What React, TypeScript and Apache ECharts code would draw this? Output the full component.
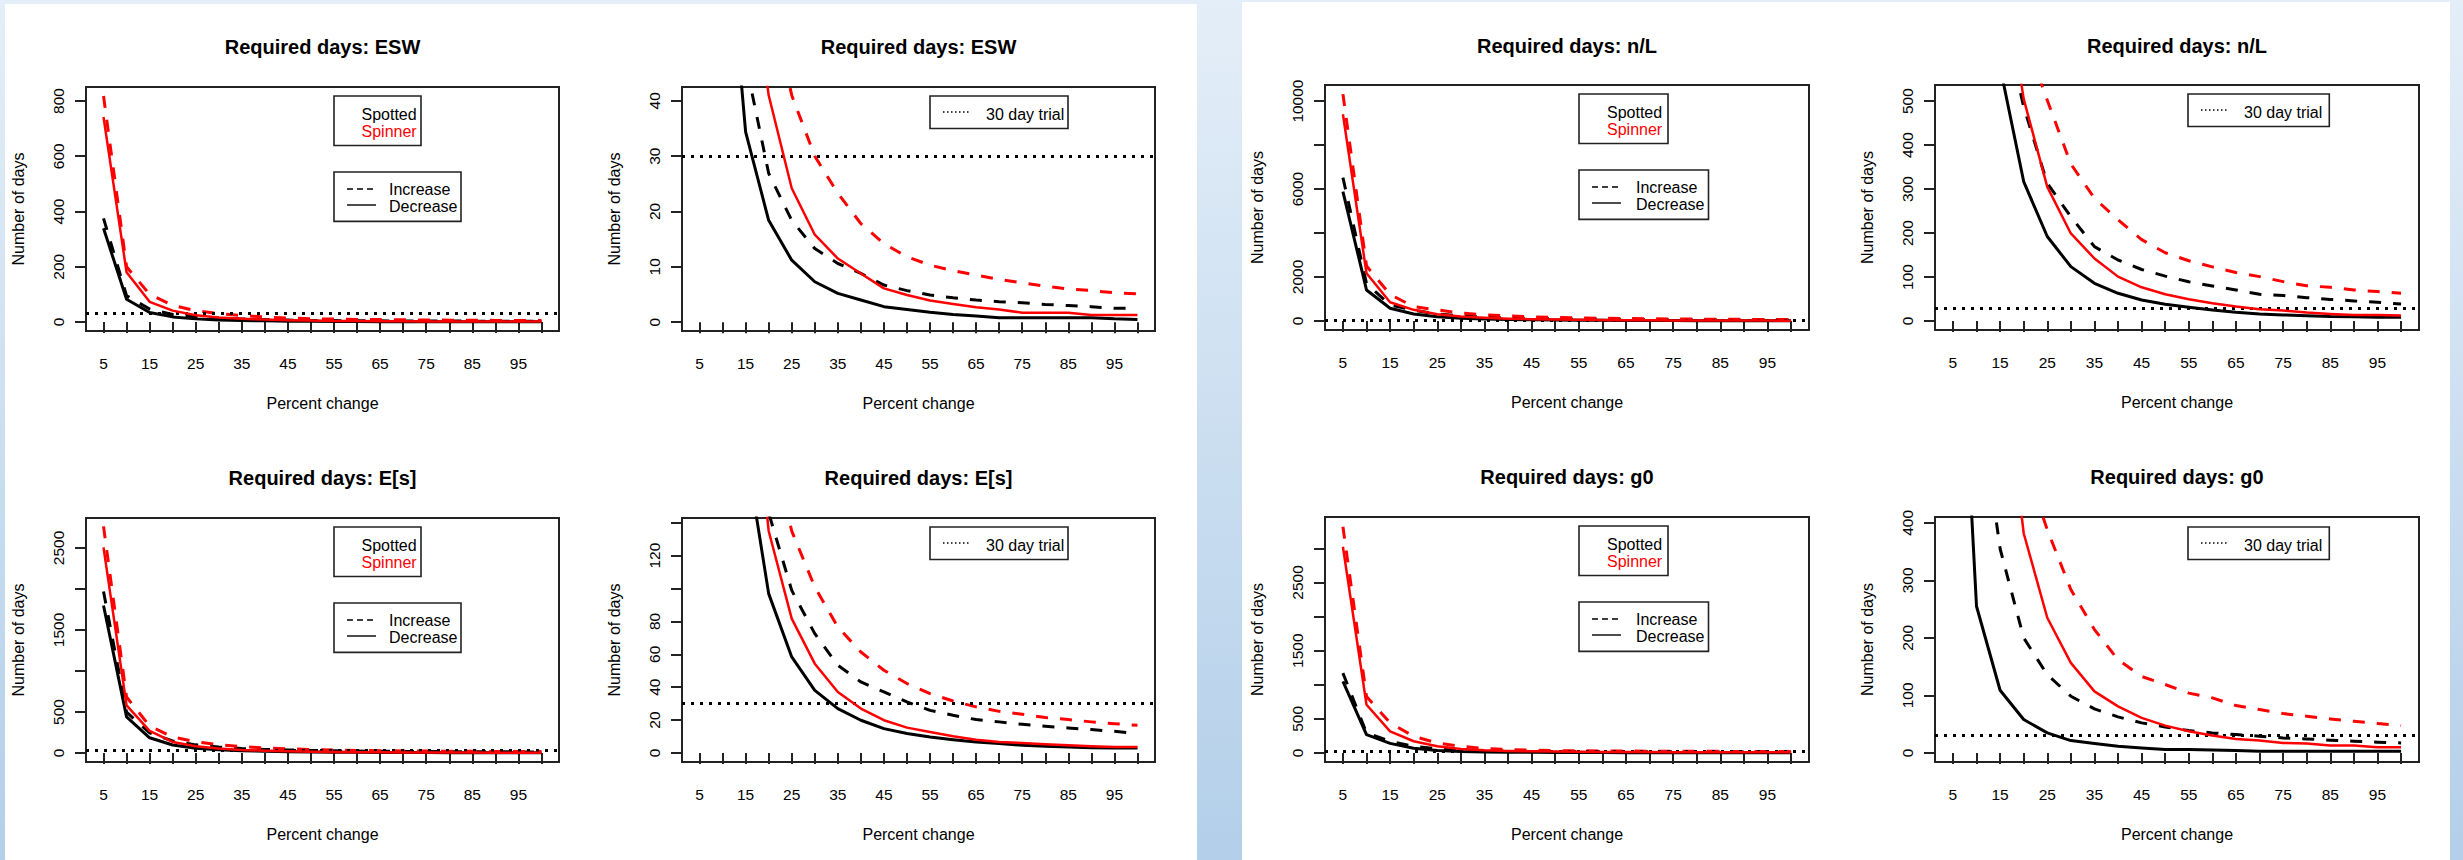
import React, { useEffect, useRef } from 'react';
import * as echarts from 'echarts';

// ---------- data ----------
const percentChange = [5, 10, 15, 20, 25, 30, 35, 40, 45, 50, 55, 60, 65, 70, 75, 80, 85, 90, 95, 100];
const xTickValues = [5, 10, 15, 20, 25, 30, 35, 40, 45, 50, 55, 60, 65, 70, 75, 80, 85, 90, 95, 100];
const xLabelValues = [5, 15, 25, 35, 45, 55, 65, 75, 85, 95];

// ESW
const eswSpottedIncrease = [375, 95, 47, 26.9, 18.4, 13.3, 10.6, 8.8, 6.7, 5.7, 4.9, 4.4, 4.0, 3.7, 3.5, 3.2, 3.0, 2.8, 2.5, 2.5];
const eswSpottedDecrease = [339, 82, 34.4, 18.4, 11.2, 7.3, 5.2, 4.0, 2.8, 2.3, 1.8, 1.4, 1.1, 0.8, 0.8, 0.8, 0.8, 0.8, 0.6, 0.5];
const eswSpinnerIncrease = [818, 200, 100, 60, 41, 30, 23.3, 17.8, 14.2, 11.8, 10.3, 9.3, 8.5, 7.7, 7.1, 6.5, 6.0, 5.7, 5.3, 5.1];
const eswSpinnerDecrease = [742, 180, 73, 41, 24.2, 15.8, 11.5, 8.8, 6.1, 4.9, 3.9, 3.3, 2.7, 2.3, 1.7, 1.7, 1.7, 1.3, 1.3, 1.3];

// n/L
const nlSpottedIncrease = [6515, 1700, 720, 487, 313, 237, 169, 138.6, 117, 102, 89, 79.5, 70.5, 60.6, 57.6, 53, 49, 45.5, 42.4, 38.6];
const nlSpottedDecrease = [5879, 1409, 578, 317, 192, 123.5, 85.6, 62.9, 47.7, 37.9, 31, 25, 19.7, 15.9, 13.6, 12, 10, 9.8, 8.5, 8.3];
const nlSpinnerIncrease = [10318, 2500, 1200, 652, 502, 357, 279, 230, 185, 155, 137, 123, 110, 100.8, 89.4, 80, 76.5, 70.5, 66.7, 63];
const nlSpinnerDecrease = [9400, 2167, 850, 505, 305, 199, 142, 100.8, 76.5, 60.6, 49.2, 40.2, 32.6, 26.5, 23.5, 19, 15.9, 13.6, 13.6, 12.1];

// E[s]
const esSpottedIncrease = [1968, 499, 245, 146, 98.9, 72.6, 53.3, 43.2, 37.1, 31, 25.9, 22.9, 20.3, 18.9, 17.4, 16.2, 15.2, 14.2, 13.2, 11.8];
const esSpottedDecrease = [1798, 440, 185, 96.9, 58.4, 38.1, 27, 19.9, 14.8, 11.8, 9.7, 8.1, 6.7, 5.7, 4.7, 4.1, 3.6, 3.2, 3.0, 3.0];
const esSpinnerIncrease = [2763, 682, 329, 195, 135, 101, 76.6, 61.4, 50.3, 42.2, 36.1, 31.6, 28, 25.3, 23.5, 21.5, 20.3, 18.9, 17.8, 16.8];
const esSpinnerDecrease = [2507, 581, 270, 135, 81.7, 54.3, 37.1, 27, 19.9, 15.4, 12.8, 10.1, 8.1, 6.7, 6.1, 5.3, 4.7, 4.1, 3.6, 3.6];

// g0 (full-range panel)
const g0FullSpottedIncrease = [1171, 293, 171, 98, 59, 39, 30, 25, 22, 20, 19, 18, 17, 16, 16, 15, 15, 15, 14, 14];
const g0FullSpottedDecrease = [1049, 268, 140, 70, 34, 20, 15, 11, 8.5, 6, 5.5, 5, 4, 3, 3, 3, 3, 3, 3, 3];
const g0FullSpinnerIncrease = [3317, 829, 440, 244, 146, 98, 65, 49, 40, 35, 31, 29, 27, 26, 25, 24, 23, 22, 22, 21];
const g0FullSpinnerDecrease = [3024, 707, 317, 171, 98, 59, 39, 30, 24, 20, 17, 15, 13, 12, 11, 10, 10, 9, 9, 9];

// g0 (zoomed panel)
const g0ZoomSpottedIncrease = [1900, 650, 355, 200, 136, 98.6, 76.5, 62.6, 52.2, 45.2, 38.8, 34.8, 31.9, 29, 26, 24.3, 22, 20.3, 18.6, 17.4];
const g0ZoomSpottedDecrease = [1030, 255, 109, 58, 34.8, 21.4, 16.2, 11.6, 8.7, 5.8, 5.8, 5, 4, 2.9, 2.9, 2.9, 2.9, 2.9, 2.9, 2.9];
const g0ZoomSpinnerIncrease = [5200, 1800, 900, 511, 388, 284, 214.5, 162, 133, 119, 104, 95.7, 82.3, 75.4, 68.4, 63.8, 59, 55, 51, 47.5];
const g0ZoomSpinnerDecrease = [4300, 1450, 730, 382, 235, 156.5, 107, 81, 61, 47.5, 37.7, 30.1, 24.3, 21.4, 17.4, 16.2, 12.8, 12.8, 9.9, 9.9];

const trialDays = 30;

// ---------- layout / style ----------
const FONT = "'Liberation Sans', Arial, sans-serif";

type Panel = {
  title: string;
  left: number; top: number; width: number; height: number;
  titleY: number;
  yMin: number; yMax: number;
  yTicks: number[]; yLabels: number[];
  series: number[][];
  legend: 'species' | 'trial';
  lx: number; ly: number; // legend anchor
};

const panels: Panel[] = [
  { title: 'Required days: ESW', left: 86, top: 87, width: 473, height: 244, titleY: 47, yMin: -32.7, yMax: 850.7,
    yTicks: [0, 200, 400, 600, 800], yLabels: [0, 200, 400, 600, 800],
    series: [eswSpottedIncrease, eswSpottedDecrease, eswSpinnerIncrease, eswSpinnerDecrease], legend: 'species', lx: 334, ly: 96 },
  { title: 'Required days: ESW', left: 682, top: 87, width: 473, height: 244, titleY: 47, yMin: -1.6, yMax: 42.5,
    yTicks: [0, 10, 20, 30, 40], yLabels: [0, 10, 20, 30, 40],
    series: [eswSpottedIncrease, eswSpottedDecrease, eswSpinnerIncrease, eswSpinnerDecrease], legend: 'trial', lx: 930, ly: 96 },
  { title: 'Required days: n/L', left: 1325, top: 85, width: 484, height: 245, titleY: 46, yMin: -413, yMax: 10731,
    yTicks: [0, 2000, 4000, 6000, 8000, 10000], yLabels: [0, 2000, 6000, 10000],
    series: [nlSpottedIncrease, nlSpottedDecrease, nlSpinnerIncrease, nlSpinnerDecrease], legend: 'species', lx: 1579, ly: 94 },
  { title: 'Required days: n/L', left: 1935, top: 85, width: 484, height: 245, titleY: 46, yMin: -20.6, yMax: 536.6,
    yTicks: [0, 100, 200, 300, 400, 500], yLabels: [0, 100, 200, 300, 400, 500],
    series: [nlSpottedIncrease, nlSpottedDecrease, nlSpinnerIncrease, nlSpinnerDecrease], legend: 'trial', lx: 2188, ly: 94 },
  { title: 'Required days: E[s]', left: 86, top: 518, width: 473, height: 244, titleY: 478, yMin: -110, yMax: 2865,
    yTicks: [0, 500, 1000, 1500, 2000, 2500], yLabels: [0, 500, 1500, 2500],
    series: [esSpottedIncrease, esSpottedDecrease, esSpinnerIncrease, esSpinnerDecrease], legend: 'species', lx: 334, ly: 527 },
  { title: 'Required days: E[s]', left: 682, top: 518, width: 473, height: 244, titleY: 478, yMin: -5.5, yMax: 142.9,
    yTicks: [0, 20, 40, 60, 80, 100, 120, 140], yLabels: [0, 20, 40, 60, 80, 120],
    series: [esSpottedIncrease, esSpottedDecrease, esSpinnerIncrease, esSpinnerDecrease], legend: 'trial', lx: 930, ly: 527 },
  { title: 'Required days: g0', left: 1325, top: 517, width: 484, height: 245, titleY: 477, yMin: -133, yMax: 3460,
    yTicks: [0, 500, 1000, 1500, 2000, 2500, 3000], yLabels: [0, 500, 1500, 2500],
    series: [g0FullSpottedIncrease, g0FullSpottedDecrease, g0FullSpinnerIncrease, g0FullSpinnerDecrease], legend: 'species', lx: 1579, ly: 526 },
  { title: 'Required days: g0', left: 1935, top: 517, width: 484, height: 245, titleY: 477, yMin: -15.8, yMax: 410.2,
    yTicks: [0, 100, 200, 300, 400], yLabels: [0, 100, 200, 300, 400],
    series: [g0ZoomSpottedIncrease, g0ZoomSpottedDecrease, g0ZoomSpinnerIncrease, g0ZoomSpinnerDecrease], legend: 'trial', lx: 2188, ly: 527 },
];

const lineStyles = [
  { name: 'Spotted increase', color: '#000000', type: [12, 12] as any, width: 3 },
  { name: 'Spotted decrease', color: '#000000', type: 'solid' as any, width: 3 },
  { name: 'Spinner increase', color: '#ff0000', type: [12, 12] as any, width: 3 },
  { name: 'Spinner decrease', color: '#ff0000', type: 'solid' as any, width: 2.5 },
];

function legendGraphics(p: Panel): any[] {
  const out: any[] = [];
  const txt = (text: string, x: number, y: number, fill: string) => ({
    type: 'text', x, y, z: 101,
    style: { text, fill, font: `16px ${FONT}`, textAlign: 'left', textVerticalAlign: 'middle' },
  });
  if (p.legend === 'species') {
    const wide = p.width > 480;
    const w1 = wide ? 89 : 87;
    const w2 = wide ? 129.5 : 127;
    const tx = p.lx + (wide ? 28 : 27.5);
    out.push({ type: 'rect', z: 100, shape: { x: p.lx, y: p.ly, width: w1, height: 49.5 }, style: { fill: '#fff', stroke: '#222', lineWidth: 1.6 } });
    out.push(txt('Spotted', tx, p.ly + 18.5, '#000'));
    out.push(txt('Spinner', tx, p.ly + 35.2, '#ff0000'));
    const y2 = p.ly + 76;
    out.push({ type: 'rect', z: 100, shape: { x: p.lx, y: y2, width: w2, height: 49.4 }, style: { fill: '#fff', stroke: '#222', lineWidth: 1.6 } });
    const l1 = p.lx + 13, l2 = p.lx + 42;
    out.push({ type: 'line', z: 101, shape: { x1: l1, y1: y2 + 17, x2: l2, y2: y2 + 17 }, style: { stroke: '#000', lineWidth: 1.4, lineDash: [6, 4] } });
    out.push({ type: 'line', z: 101, shape: { x1: l1, y1: y2 + 33, x2: l2, y2: y2 + 33 }, style: { stroke: '#000', lineWidth: 1.4 } });
    const tx2 = p.lx + (wide ? 57 : 55);
    out.push(txt('Increase', tx2, y2 + 17.5, '#000'));
    out.push(txt('Decrease', tx2, y2 + 34, '#000'));
  } else {
    const w = p.width > 480 ? 141.3 : 138;
    out.push({ type: 'rect', z: 100, shape: { x: p.lx, y: p.ly, width: w, height: 32.5 }, style: { fill: '#fff', stroke: '#222', lineWidth: 1.6 } });
    out.push({ type: 'line', z: 101, shape: { x1: p.lx + 13, y1: p.ly + 16, x2: p.lx + 41, y2: p.ly + 16 }, style: { stroke: '#000', lineWidth: 1.5, lineDash: [1.5, 2.5] } });
    out.push(txt('30 day trial', p.lx + 56, p.ly + 18.5, '#000'));
  }
  return out;
}

function buildOption(): any {
  const grid = panels.map((p) => ({
    left: p.left, top: p.top, width: p.width, height: p.height,
    show: true, borderColor: '#222', borderWidth: 2, backgroundColor: 'transparent', containLabel: false,
  }));

  const xAxis = panels.map((p, i) => ({
    type: 'value', gridIndex: i, min: 1.2, max: 103.8,
    name: 'Percent change', nameLocation: 'middle', nameGap: 64,
    nameTextStyle: { fontFamily: FONT, fontSize: 16, color: '#000' },
    axisLine: { show: false },
    splitLine: { show: false },
    axisTick: { show: true, length: 11, customValues: xTickValues, lineStyle: { color: '#222', width: 2 } },
    axisLabel: { show: true, customValues: xLabelValues, margin: 24, fontFamily: FONT, fontSize: 15.5, color: '#000', formatter: (v: number) => String(v) },
  }));

  const yAxis = panels.map((p, i) => ({
    type: 'value', gridIndex: i, min: p.yMin, max: p.yMax,
    name: 'Number of days', nameLocation: 'middle', nameGap: 60,
    nameTextStyle: { fontFamily: FONT, fontSize: 16, color: '#000' },
    axisLine: { show: false },
    splitLine: { show: false },
    axisTick: { show: true, length: 11, customValues: p.yTicks, lineStyle: { color: '#222', width: 2 } },
    axisLabel: { show: true, rotate: 90, customValues: p.yLabels, margin: 20, fontFamily: FONT, fontSize: 15.5, color: '#000', formatter: (v: number) => String(v) },
  }));

  const series: any[] = [];
  panels.forEach((p, i) => {
    p.series.forEach((vals, j) => {
      const st = lineStyles[j];
      const s: any = {
        type: 'line', name: st.name, xAxisIndex: i, yAxisIndex: i,
        data: percentChange.map((x, k) => [x, vals[k]]),
        showSymbol: false, symbol: 'none', clip: true, silent: true, z: 2 + j,
        lineStyle: { color: st.color, width: st.width, type: st.type, cap: 'butt', join: 'round' },
      };
      if (j === 0) {
        s.markLine = {
          silent: true, symbol: ['none', 'none'], label: { show: false },
          lineStyle: { color: '#000', type: [3, 6], width: 3 },
          data: [{ yAxis: trialDays }],
        };
      }
      series.push(s);
    });
  });

  const title = panels.map((p) => ({
    text: p.title, left: p.left + p.width / 2, top: p.titleY, textAlign: 'center', textVerticalAlign: 'middle', padding: 0,
    textStyle: { fontFamily: FONT, fontSize: 20, fontWeight: 'bold', color: '#000' },
  }));

  const graphic: any[] = [
    {
      type: 'rect', z: -10, silent: true, shape: { x: 0, y: 0, width: 2463, height: 860 },
      style: { fill: new echarts.graphic.LinearGradient(0, 0, 0, 1, [
        { offset: 0, color: '#e4eef8' }, { offset: 1, color: '#b3cfe9' },
      ]) },
    },
    { type: 'rect', z: -9, silent: true, shape: { x: 5, y: 4, width: 1192, height: 856 }, style: { fill: '#ffffff' } },
    { type: 'rect', z: -9, silent: true, shape: { x: 1242, y: 2, width: 1208, height: 858 }, style: { fill: '#ffffff' } },
  ];
  panels.forEach((p) => graphic.push(...legendGraphics(p)));

  return { animation: false, backgroundColor: '#dbe8f5', title, grid, xAxis, yAxis, series, graphic };
}

export default function App() {
  const ref = useRef<HTMLDivElement>(null);
  useEffect(() => {
    if (!ref.current) return;
    const chart = echarts.init(ref.current, null, { renderer: 'svg', width: 2463, height: 860 });
    chart.setOption(buildOption());
    return () => chart.dispose();
  }, []);
  return <div ref={ref} style={{ position: 'fixed', left: 0, top: 0, width: 2463, height: 860 }} />;
}
